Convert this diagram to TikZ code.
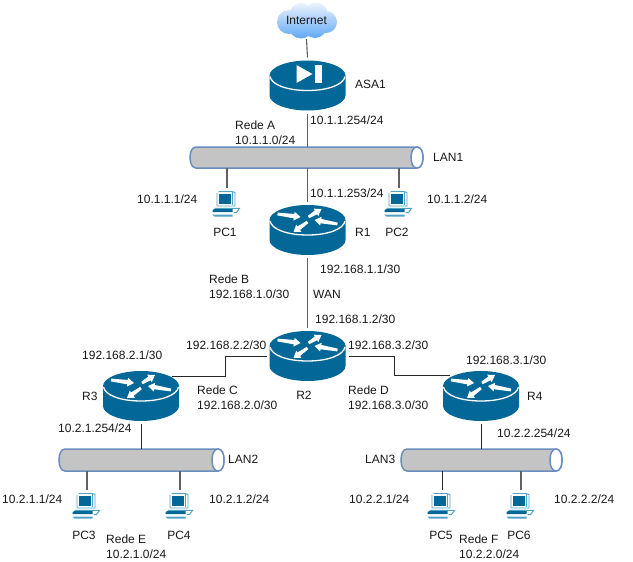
\documentclass[tikz,border=0pt]{standalone}
\usepackage{fontspec}
\setmainfont{Liberation Sans}
\usetikzlibrary{calc}
\definecolor{ciscoblue}{HTML}{036897}
\definecolor{pclight}{HTML}{4FA3C7}
\definecolor{lanfill}{HTML}{C4C4C4}
\definecolor{lanedge}{HTML}{6C8EBF}
\definecolor{cloudtop}{HTML}{EEF4FD}
\definecolor{cloudbot}{HTML}{5FA8F5}
\tikzset{
  lbl/.style={inner sep=0pt,font=\fontsize{12}{15}\selectfont,text=black!90},
  devbox/.style={inner sep=0pt,outer sep=3pt,minimum width=#1},
  devbox/.default=76pt,
  linkgray/.style={draw=black!62,line width=1.1pt},
  linkdark/.style={draw=black!85,line width=1pt},
  lanbody/.style={fill=lanfill,draw=lanedge,line width=1.5pt},
}
% tapered white arrow on a router: tail, tip
\newcommand\rarrow[2]{%
  \coordinate (ta) at (#1);\coordinate (tb) at (#2);
  \coordinate (th) at ($(tb)!6.5pt!(ta)$);
  \fill[white] ($(ta)!1.4pt!90:(tb)$) -- ($(th)!2.2pt!-90:(ta)$) -- ($(th)!4.4pt!-90:(ta)$) -- (tb)
     -- ($(th)!4.4pt!90:(ta)$) -- ($(th)!2.2pt!90:(ta)$) -- ($(ta)!1.4pt!-90:(tb)$) -- cycle;}
% drum body shared by routers and the firewall
\newcommand\drum{%
  \fill[ciscoblue] (-38,-10) .. controls (-38,-18) and (-21,-25) .. (0,-25)
     .. controls (21,-25) and (38,-18) .. (38,-10) -- (38,10)
     .. controls (38,18) and (21,25) .. (0,25)
     .. controls (-21,25) and (-38,18) .. (-38,10) -- cycle;
  \draw[white,line width=1.3pt] (-37.5,-9) .. controls (-36,-1) and (-21,5) .. (0,5)
     .. controls (21,5) and (36,-1) .. (37.5,-9);}
\newcommand\router[2]{%
  \node[devbox,minimum height=50pt] (#1) at (#2) {};
  \begin{scope}[shift={(#2)}]
    \drum
    \rarrow{-30,-16}{-7,-13}
    \rarrow{1,-13}{14,-21}
    \rarrow{30,-6}{7,-10}
    \rarrow{0,-8}{-14,2}
  \end{scope}}
\newcommand\firewall[2]{%
  \node[devbox,minimum height=50pt] (#1) at (#2) {};
  \begin{scope}[shift={(#2)}]
    \drum
    \fill[white] (-11,-20.5) -- (5,-11.5) -- (-11,-2.5) -- cycle;
    \fill[white] (7,-20.5) rectangle (14,-3);
  \end{scope}}
\newcommand\pcicon[2]{%
  \node[devbox=29pt,minimum height=28pt,outer sep=1pt] (#1) at (#2) {};
  \begin{scope}[shift={(#2)},shift={(-14.5,-14)}]
    \draw[pclight,line width=.9pt] (6,2.5) -- (19.5,2.5) -- (22.5,3.5) -- (22.5,17) -- (4.5,17) -- (4.5,4);
    \draw[pclight,line width=.7pt] (20,3) -- (20,16);
    \fill[ciscoblue] (6.5,5) rectangle (18.5,14.5);
    \fill[ciscoblue] (0,21) -- (2,20) -- (20,20) -- (20,23) -- (0,23) -- cycle;
    \draw[pclight,line width=1pt] (2,19.4) -- (27,19.4) -- (24,23.5) -- (21,23.5);
    \fill[pclight] (0,25.5) -- (20,25.5) -- (20,27.7) -- (2,27.7) -- cycle;
  \end{scope}}
% horizontal pipe: name, left x, right x, top y, bottom y
\newcommand\lan[5]{%
  \path (#2,#4) -- (#3,#5) node[midway,inner sep=0pt,outer sep=0pt,minimum width=#3pt-#2pt,minimum height=#5pt-#4pt] (#1) {};
  \draw[lanbody] (#2+6,#4) -- (#3-6,#4) .. controls (#3-2,#4) and (#3,#4+5) .. (#3,{(#4+#5)/2})
     .. controls (#3,#5-5) and (#3-2,#5) .. (#3-6,#5) -- (#2+6,#5)
     .. controls (#2+2,#5) and (#2,#5-5) .. (#2,{(#4+#5)/2})
     .. controls (#2,#4+5) and (#2+2,#4) .. (#2+6,#4) -- cycle;
  \draw[lanbody,fill=white] (#3-6,#4) .. controls (#3-2,#4) and (#3,#4+5) .. (#3,{(#4+#5)/2})
     .. controls (#3,#5-5) and (#3-2,#5) .. (#3-6,#5)
     .. controls (#3-10,#5) and (#3-12,#5-5) .. (#3-12,{(#4+#5)/2})
     .. controls (#3-12,#4+5) and (#3-10,#4) .. (#3-6,#4) -- cycle;}
% single-line text: name, left x, baseline y, text
\newcommand\tl[4]{\node[lbl,anchor=base west] (#1) at (#2,#3) {#4};}
\newcommand\tc[4]{\node[lbl,anchor=base] (#1) at (#2,#3) {#4};}
% two-line text: name, left x, middle y, line 1, line 2
\newcommand\tw[5]{\node[lbl,anchor=west,align=left] (#1) at (#2,#3) {#4\\#5};}
\begin{document}
\begin{tikzpicture}[x=1pt,y=-1pt]
\useasboundingbox[fill=white] (0,0) rectangle (633,562);
% cloud
\shade[top color=cloudtop,bottom color=cloudbot,shading angle=0]
  (289,22) circle[radius=12pt] (301,14) circle[radius=11pt] (316,14) circle[radius=11.5pt]
  (326,22) circle[radius=11pt] (301,26) circle[radius=12.5pt] (315,26) circle[radius=12pt];
\node[lbl,inner sep=0pt,minimum width=60pt,minimum height=37pt] (INET) at (306.5,20.5) {Internet};
% devices
\firewall{ASA1}{307.5,85.5}
\lan{LAN1}{190}{423}{147}{168}
\lan{LAN2}{59}{224}{449}{471}
\lan{LAN3}{401}{562}{449}{471}
\router{R1}{307.5,230}
\router{R2}{307.5,356}
\router{R3}{141,396}
\router{R4}{481,396}
\pcicon{PC1}{227,203}
\pcicon{PC2}{399,203}
\pcicon{PC3}{87,505}
\pcicon{PC4}{180,505}
\pcicon{PC5}{442,505}
\pcicon{PC6}{521,505}
% connectors
\draw[linkgray] (INET.south) -- (ASA1.north);
\draw[linkgray] (ASA1.south) -- (LAN1.north -| ASA1.south);
\draw[linkgray] (LAN1.south -| R1.north) -- (R1.north);
\draw[linkgray] (R1.south) -- (R2.north);
\draw[linkgray] (LAN1.south -| PC1.north) -- (PC1.north);
\draw[linkgray] (LAN1.south -| PC2.north) -- (PC2.north);
\coordinate (R3port) at ([xshift=-10pt,yshift=-8pt]R3.north east);
\coordinate (R4port) at ([xshift=10pt,yshift=-7pt]R4.north west);
\draw[linkdark] (R3port) -- ++(53,0) |- (R2.west);
\draw[linkdark] (R2.east) -- ++(46,0) |- (R4port);
\draw[linkdark] (R3.south) -- (LAN2.north -| R3.south);
\draw[linkdark] (R4.south) -- (LAN3.north -| R4.south);
\draw[linkgray] (LAN2.south -| PC3.north) -- (PC3.north);
\draw[linkgray] (LAN2.south -| PC4.north) -- (PC4.north);
\draw[linkdark] (LAN3.south -| PC5.north) -- (PC5.north);
\draw[linkgray] (LAN3.south -| PC6.north) -- (PC6.north);
% labels
\tl{tASA}{355}{88}{ASA1}
\tl{tA1}{310}{124}{10.1.1.254/24}
\tw{tA}{235}{132.5}{Rede A}{10.1.1.0/24}
\tl{tL1}{433}{161}{LAN1}
\tl{tP1}{137}{203}{10.1.1.1/24}
\tl{tR1a}{310}{197}{10.1.1.253/24}
\tl{tP2}{427}{203}{10.1.1.2/24}
\tc{tPC1}{225}{236}{PC1}
\tc{tPC2}{397}{236}{PC2}
\tl{tR1}{355}{236}{R1}
\tl{tR1b}{320}{273}{192.168.1.1/30}
\tw{tB}{209}{286.5}{Rede B}{192.168.1.0/30}
\tl{tW}{313}{298}{WAN}
\tl{tR2a}{315}{323}{192.168.1.2/30}
\tl{tR3a}{82}{359}{192.168.2.1/30}
\tl{tR2b}{186}{349}{192.168.2.2/30}
\tl{tR2c}{348}{349}{192.168.3.2/30}
\tl{tR4a}{466}{364}{192.168.3.1/30}
\tl{tR3}{82}{400}{R3}
\tl{tR4}{527}{400}{R4}
\tc{tR2}{304}{399}{R2}
\tw{tC}{197}{397.5}{Rede C}{192.168.2.0/30}
\tw{tD}{348}{397.5}{Rede D}{192.168.3.0/30}
\tl{tR3b}{58}{432}{10.2.1.254/24}
\tl{tR4b}{497}{437}{10.2.2.254/24}
\tl{tL2}{228}{463}{LAN2}
\tl{tL3}{365}{463}{LAN3}
\tl{tP3}{2}{503}{10.2.1.1/24}
\tl{tP4}{209}{503}{10.2.1.2/24}
\tl{tP5}{349}{503}{10.2.2.1/24}
\tl{tP6}{554}{503}{10.2.2.2/24}
\tc{tPC3}{84}{539}{PC3}
\tc{tPC4}{179}{539}{PC4}
\tc{tPC5}{441}{539}{PC5}
\tc{tPC6}{519}{539}{PC6}
\tw{tE}{106}{546.5}{Rede E}{10.2.1.0/24}
\tw{tF}{459}{546.5}{Rede F}{10.2.2.0/24}
\end{tikzpicture}
\end{document}
